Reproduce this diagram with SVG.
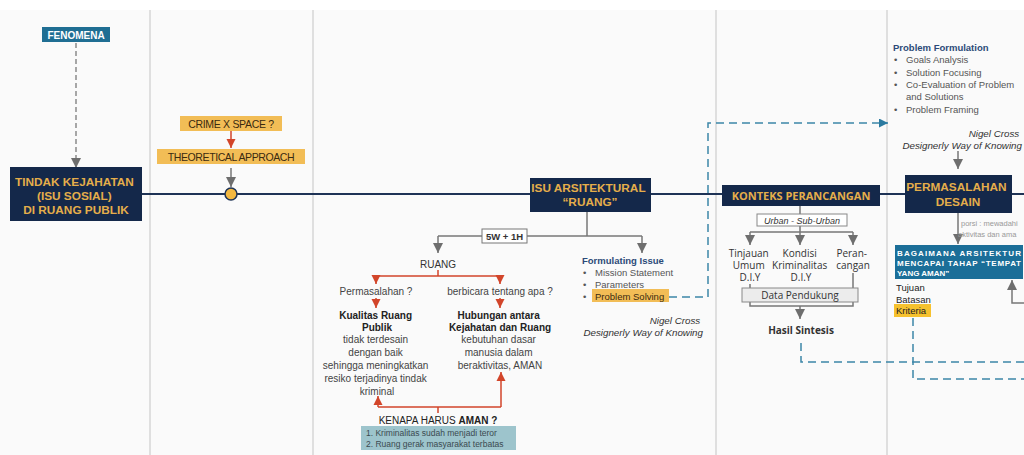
<svg xmlns="http://www.w3.org/2000/svg" width="1024" height="455" viewBox="0 0 1024 455">
  <defs>
    <style>
      .sans { font-family: "Liberation Sans", Arial, sans-serif; }
      .navy { fill: #14284a; }
      .gold { fill: #e5ae4a; font-weight: bold; font-family: "Liberation Sans", Arial, sans-serif; }
      .hl { fill: #f2bd56; }
      .body { font-family: "Liberation Sans", Arial, sans-serif; font-size: 10px; fill: #333; }
      .bodyb { font-family: "Liberation Sans", Arial, sans-serif; font-size: 10px; fill: #222; font-weight: bold; }
      .blue { font-family: "Liberation Sans", Arial, sans-serif; font-size: 9.5px; fill: #2c4a78; font-weight: bold; }
      .item { font-family: "Liberation Sans", Arial, sans-serif; font-size: 9.5px; fill: #555; }
      .ital { font-family: "Liberation Sans", Arial, sans-serif; font-size: 9.8px; fill: #333; font-style: italic; }
      .ctx { font-family: "Open Sans", sans-serif; font-size: 10px; fill: #333; }
      .divider { stroke: #d6d6d6; stroke-width: 1.5; }
      .gline { stroke: #777; stroke-width: 1.5; fill: none; }
      .rline { stroke: #d2452a; stroke-width: 1.5; fill: none; }
      .tdash { stroke: #3d86a8; stroke-width: 1.5; fill: none; stroke-dasharray: 8 5; }
    </style>
    <marker id="ag" viewBox="0 0 10 10" refX="10" refY="5" markerWidth="10" markerHeight="10" markerUnits="userSpaceOnUse" orient="auto">
      <path d="M0,0 L10,5 L0,10 z" fill="#6e6e6e"/>
    </marker>
    <marker id="ar" viewBox="0 0 10 10" refX="10" refY="5" markerWidth="9" markerHeight="10" markerUnits="userSpaceOnUse" orient="auto">
      <path d="M0,0 L10,5 L0,10 z" fill="#d2452a"/>
    </marker>
    <marker id="at" viewBox="0 0 10 10" refX="10" refY="5" markerWidth="9" markerHeight="9" markerUnits="userSpaceOnUse" orient="auto">
      <path d="M0,0 L10,5 L0,10 z" fill="#2b7aa0"/>
    </marker>
  </defs>

  <!-- page background -->
  <rect x="0" y="0" width="1024" height="455" fill="#ffffff"/>
  <rect x="0" y="10" width="1024" height="445" fill="#fafafa"/>

  <!-- column dividers -->
  <g id="dividers">
    <line class="divider" x1="150" y1="10" x2="150" y2="455"/>
    <line class="divider" x1="313" y1="10" x2="313" y2="455"/>
    <line class="divider" x1="716" y1="10" x2="716" y2="455"/>
    <line class="divider" x1="887" y1="10" x2="887" y2="455"/>
  </g>

  <!-- connectors -->
  <g id="connectors">
    <!-- main timeline -->
    <line x1="142" y1="194" x2="1024" y2="194" stroke="#1e3356" stroke-width="2"/>
    <!-- fenomena to tindak kejahatan -->
    <line x1="76" y1="43" x2="76" y2="168" stroke="#8a8a8a" stroke-width="1.5" stroke-dasharray="5 3" marker-end="url(#ag)"/>
    <!-- crime x space to theoretical approach -->
    <line class="rline" x1="231" y1="131" x2="231" y2="148" marker-end="url(#ar)"/>
    <line class="gline" x1="231" y1="168" x2="231" y2="187" marker-end="url(#ag)"/>
    <!-- isu arsitektural branching -->
    <path class="gline" d="M587,212 V236"/>
    <path class="gline" d="M438,236 H642"/>
    <line class="gline" x1="438" y1="236" x2="438" y2="253" marker-end="url(#ag)"/>
    <line class="gline" x1="642" y1="236" x2="642" y2="253" marker-end="url(#ag)"/>
    <!-- ruang red branching -->
    <path class="rline" d="M438,270 V276"/>
    <path class="rline" d="M376,276 H500"/>
    <line class="rline" x1="376" y1="276" x2="376" y2="284" marker-end="url(#ar)"/>
    <line class="rline" x1="500" y1="276" x2="500" y2="284" marker-end="url(#ar)"/>
    <line class="rline" x1="376" y1="298" x2="376" y2="308" marker-end="url(#ar)"/>
    <line class="rline" x1="500" y1="298" x2="500" y2="308" marker-end="url(#ar)"/>
    <!-- kenapa harus aman feedback -->
    <path class="rline" d="M378,407 H501"/>
    <line class="rline" x1="378" y1="407" x2="378" y2="396" marker-end="url(#ar)"/>
    <line class="rline" x1="501" y1="407" x2="501" y2="372" marker-end="url(#ar)"/>
    <line class="rline" x1="438" y1="407" x2="438" y2="413"/>
    <!-- problem solving to problem formulation -->
    <path class="tdash" d="M669,297 H708 V123 H888" marker-end="url(#at)"/>
    <!-- konteks perancangan tree -->
    <line class="gline" x1="800" y1="206" x2="800" y2="214"/>
    <path class="gline" d="M800,226 V232 M750,232 H853"/>
    <line class="gline" x1="750" y1="232" x2="750" y2="245" marker-end="url(#ag)"/>
    <line class="gline" x1="800" y1="232" x2="800" y2="245" marker-end="url(#ag)"/>
    <line class="gline" x1="853" y1="232" x2="853" y2="245" marker-end="url(#ag)"/>
    <path class="gline" d="M750,284 V306 H853 V273"/>
    <line class="gline" x1="800" y1="306" x2="800" y2="319" marker-end="url(#ag)"/>
    <!-- hasil sintesis and kriteria dashed links -->
    <path class="tdash" d="M801,343 V362 H1024"/>
    <path class="tdash" d="M913,318 V379 H1024"/>
    <!-- permasalahan desain chain -->
    <line class="gline" x1="958" y1="151" x2="958" y2="169" marker-end="url(#ag)"/>
    <line class="gline" x1="958" y1="213" x2="958" y2="244" marker-end="url(#ag)"/>
    <path class="gline" d="M1024,303 H1012 V280" marker-end="url(#ag)"/>
  </g>

  <!-- FENOMENA -->
  <g id="fenomena">
    <rect x="42" y="27" width="68" height="15" fill="#1f6e93"/>
    <text x="76" y="38.5" text-anchor="middle" class="sans" font-size="10" font-weight="bold" fill="#ffffff">FENOMENA</text>
  </g>

  <!-- TINDAK KEJAHATAN -->
  <g id="tindak-kejahatan">
    <rect x="10" y="167" width="132" height="54" class="navy"/>
    <text class="gold" font-size="11.8" text-anchor="middle">
      <tspan x="76" y="186">TINDAK KEJAHATAN</tspan>
      <tspan x="76" y="200">(ISU SOSIAL)</tspan>
      <tspan x="76" y="214">DI RUANG PUBLIK</tspan>
    </text>
  </g>

  <!-- CRIME X SPACE -->
  <g id="crime-x-space">
    <rect x="180" y="116" width="102" height="15" class="hl"/>
    <text x="231" y="127.5" text-anchor="middle" class="sans" font-size="10.5" fill="#3a2a10" letter-spacing="-0.3">CRIME X SPACE ?</text>
  </g>

  <!-- THEORETICAL APPROACH -->
  <g id="theoretical-approach">
    <rect x="157" y="149" width="148" height="15" class="hl"/>
    <text x="231" y="160.5" text-anchor="middle" class="sans" font-size="10.5" fill="#3a2a10" letter-spacing="-0.4">THEORETICAL APPROACH</text>
  </g>

  <!-- timeline marker -->
  <g id="timeline-point">
    <circle cx="231" cy="194" r="6" fill="#f3b841" stroke="#1e3356" stroke-width="1.5"/>
  </g>

  <!-- ISU ARSITEKTURAL -->
  <g id="isu-arsitektural">
    <rect x="530" y="178" width="121" height="34" class="navy"/>
    <text class="gold" font-size="11.8" text-anchor="middle">
      <tspan x="590" y="192">ISU ARSITEKTURAL</tspan>
      <tspan x="590" y="206">“RUANG”</tspan>
    </text>
  </g>

  <!-- 5W + 1H -->
  <g id="label-5w1h">
    <rect x="482" y="229" width="45" height="14" fill="#ffffff" stroke="#777" stroke-width="1"/>
    <text x="504.5" y="240" text-anchor="middle" class="sans" font-size="9.5" font-weight="bold" fill="#333">5W + 1H</text>
  </g>

  <!-- RUANG -->
  <g id="ruang">
    <text x="438" y="268" text-anchor="middle" class="body">RUANG</text>
  </g>

  <!-- Permasalahan branch -->
  <g id="kualitas-ruang">
    <text x="376" y="295" text-anchor="middle" class="body" style="fill:#444">Permasalahan ?</text>
    <text text-anchor="middle" class="bodyb">
      <tspan x="377" y="319">Kualitas Ruang</tspan>
      <tspan x="377" y="331">Publik</tspan>
    </text>
    <text text-anchor="middle" class="body" style="fill:#444">
      <tspan x="377" y="343">tidak terdesain</tspan>
      <tspan x="377" y="356">dengan baik</tspan>
      <tspan x="377" y="369">sehingga meningkatkan</tspan>
      <tspan x="377" y="382">resiko terjadinya tindak</tspan>
      <tspan x="377" y="395">kriminal</tspan>
    </text>
  </g>

  <!-- berbicara tentang apa branch -->
  <g id="hubungan">
    <text x="500" y="295" text-anchor="middle" class="body" style="fill:#444">berbicara tentang apa ?</text>
    <text text-anchor="middle" class="bodyb">
      <tspan x="500" y="319">Hubungan antara</tspan>
      <tspan x="500" y="331">Kejahatan dan Ruang</tspan>
    </text>
    <text text-anchor="middle" class="body" style="fill:#444">
      <tspan x="500" y="343">kebutuhan dasar</tspan>
      <tspan x="500" y="356">manusia dalam</tspan>
      <tspan x="500" y="369">beraktivitas, AMAN</tspan>
    </text>
  </g>

  <!-- KENAPA HARUS AMAN -->
  <g id="kenapa-aman">
    <text x="438" y="424" text-anchor="middle" class="body" style="fill:#222">KENAPA HARUS <tspan font-weight="bold">AMAN ?</tspan></text>
    <rect x="361" y="426" width="155" height="24" fill="#9dc4cc"/>
    <text class="sans" font-size="8.5" fill="#3b4a50">
      <tspan x="366" y="436">1. Kriminalitas sudah menjadi teror</tspan>
      <tspan x="366" y="447">2. Ruang gerak masyarakat terbatas</tspan>
    </text>
  </g>

  <!-- Formulating Issue -->
  <g id="formulating-issue">
    <text x="582" y="264" class="blue" font-size="10">Formulating Issue</text>
    <rect x="592" y="289" width="77" height="13" class="hl"/>
    <text class="item">
      <tspan x="583" y="276">•</tspan><tspan x="595" y="276">Mission Statement</tspan>
      <tspan x="583" y="288">•</tspan><tspan x="595" y="288">Parameters</tspan>
      <tspan x="583" y="299.5">•</tspan><tspan x="595" y="299.5" fill="#3a2a10">Problem Solving</tspan>
    </text>
    <text text-anchor="end" class="ital">
      <tspan x="703" y="324">Nigel Cross</tspan>
      <tspan x="703" y="336">Designerly Way of Knowing</tspan>
    </text>
  </g>

  <!-- KONTEKS PERANCANGAN -->
  <g id="konteks-perancangan">
    <rect x="722" y="185" width="158" height="21" class="navy"/>
    <text x="801" y="200" text-anchor="middle" font-family="'Open Sans', sans-serif" font-size="11" font-weight="bold" fill="#e5ae4a">KONTEKS PERANCANGAN</text>
  </g>

  <!-- Urban - Sub-Urban -->
  <g id="urban">
    <rect x="757" y="214" width="90" height="12" fill="#ffffff" stroke="#888" stroke-width="1"/>
    <text x="802" y="223.5" text-anchor="middle" class="sans" font-size="9" font-style="italic" fill="#333">Urban - Sub-Urban</text>
  </g>

  <!-- context items -->
  <g id="tinjauan-umum">
    <text text-anchor="middle" class="ctx">
      <tspan x="750" y="257">Tinjauan</tspan>
      <tspan x="750" y="269">Umum</tspan>
      <tspan x="750" y="281">D.I.Y</tspan>
    </text>
  </g>
  <g id="kondisi-kriminalitas">
    <text text-anchor="middle" class="ctx">
      <tspan x="801" y="257">Kondisi</tspan>
      <tspan x="801" y="269">Kriminalitas</tspan>
      <tspan x="801" y="281">D.I.Y</tspan>
    </text>
  </g>
  <g id="perancangan">
    <text text-anchor="middle" class="ctx">
      <tspan x="853" y="257">Peran-</tspan>
      <tspan x="853" y="269">cangan</tspan>
    </text>
  </g>

  <!-- Data Pendukung -->
  <g id="data-pendukung">
    <rect x="742" y="288" width="116" height="14" fill="#ececec" stroke="#888" stroke-width="1"/>
    <text x="800" y="299" text-anchor="middle" class="ctx">Data Pendukung</text>
  </g>

  <!-- Hasil Sintesis -->
  <g id="hasil-sintesis">
    <text x="801" y="334" text-anchor="middle" class="ctx" font-weight="bold">Hasil Sintesis</text>
  </g>

  <!-- Problem Formulation -->
  <g id="problem-formulation">
    <text x="893" y="51" class="blue">Problem Formulation</text>
    <text class="item" font-size="9">
      <tspan x="894" y="63">•</tspan><tspan x="906" y="63">Goals Analysis</tspan>
      <tspan x="894" y="76">•</tspan><tspan x="906" y="76">Solution Focusing</tspan>
      <tspan x="894" y="88">•</tspan><tspan x="906" y="88">Co-Evaluation of Problem</tspan>
      <tspan x="906" y="100">and Solutions</tspan>
      <tspan x="894" y="113">•</tspan><tspan x="906" y="113">Problem Framing</tspan>
    </text>
    <text text-anchor="end" class="ital">
      <tspan x="1022" y="137">Nigel Cross</tspan>
      <tspan x="1022" y="149">Designerly Way of Knowing</tspan>
    </text>
  </g>

  <!-- PERMASALAHAN DESAIN -->
  <g id="permasalahan-desain">
    <rect x="905" y="175" width="107" height="38" class="navy"/>
    <text class="gold" font-size="11.8" text-anchor="middle">
      <tspan x="958" y="191">PERMASALAHAN</tspan>
      <tspan x="958" y="206">DESAIN</tspan>
    </text>
  </g>

  <!-- porsi note -->
  <g id="porsi">
    <text class="sans" font-size="7.5" fill="#999">
      <tspan x="961" y="226">porsi : mewadahi</tspan>
      <tspan x="958" y="237">aktivitas dan ama</tspan>
    </text>
  </g>

  <!-- BAGAIMANA -->
  <g id="bagaimana">
    <rect x="895" y="245" width="128" height="34" fill="#1b6e98"/>
    <text class="sans" font-size="8" font-weight="bold" fill="#ffffff">
      <tspan x="897" y="256" textLength="124" lengthAdjust="spacing">BAGAIMANA ARSITEKTUR</tspan>
      <tspan x="897" y="266" textLength="124" lengthAdjust="spacing">MENCAPAI TAHAP “TEMPAT</tspan>
      <tspan x="897" y="276">YANG AMAN”</tspan>
    </text>
  </g>

  <!-- Tujuan / Batasan / Kriteria -->
  <g id="tujuan-batasan-kriteria">
    <rect x="894" y="304" width="37" height="13" fill="#f6c12e"/>
    <text class="sans" font-size="9.5" fill="#222">
      <tspan x="896" y="291">Tujuan</tspan>
      <tspan x="896" y="303">Batasan</tspan>
      <tspan x="896" y="314">Kriteria</tspan>
    </text>
  </g>
</svg>
